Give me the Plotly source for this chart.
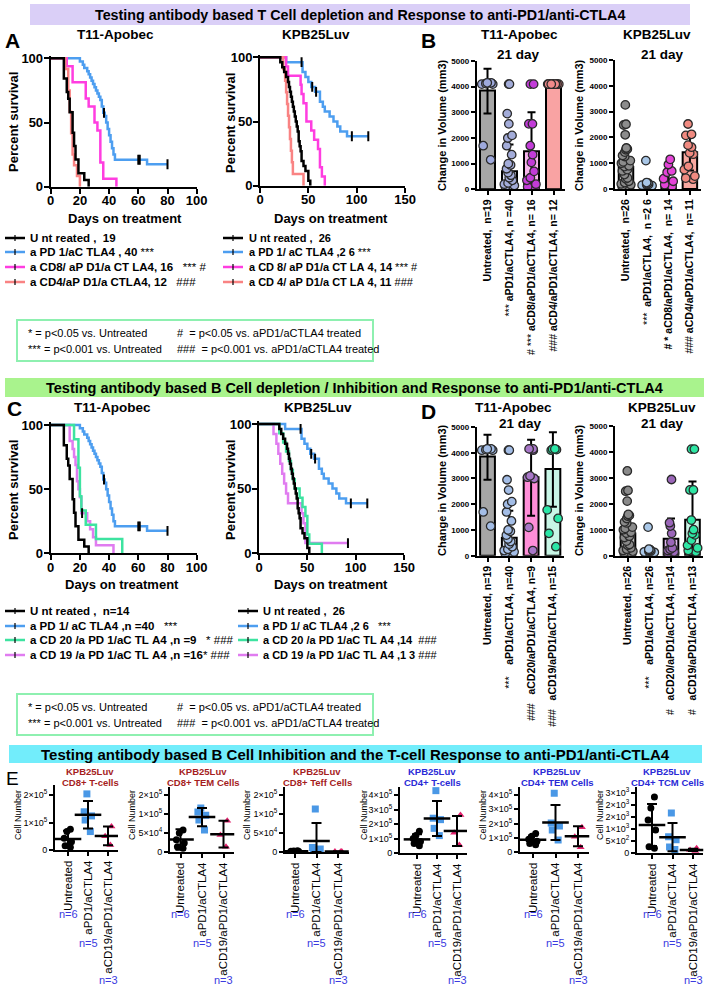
import plotly.graph_objects as go

W, H = 712, 988
FONT = "Liberation Sans, Arial, Helvetica, sans-serif"

# ===================== DATA =====================
# ---- Survival (Kaplan-Meier steps), T11-Apobec ----
t11_untreated_days = [0, 9, 11, 12, 13, 15, 16, 17, 19, 23, 26]
t11_untreated_surv = [100, 84.2, 73.7, 68.4, 57.9, 42.1, 31.6, 21.1, 10.5, 5.3, 0]
t11_apd1_days = [0, 20, 22, 23, 25, 26, 27, 28, 29, 30, 31, 32, 33, 34, 35, 36, 37, 38, 39, 40, 41, 42, 43, 44, 66, 80]
t11_apd1_surv = [100, 97.5, 95, 92.5, 90, 87.5, 85, 82.5, 80, 77.5, 75, 72.5, 70, 67.5, 62.5, 57.5, 55, 50, 45, 40, 35, 30, 25, 21, 17.5, 17.5]
t11_apd1_censor_days = [36.5, 60, 61, 80]
t11_apd1_censor_surv = [57.5, 21, 21, 17.5]
t11_acd8_days = [0, 11, 15, 24, 26, 30, 32, 34, 36, 45]
t11_acd8_surv = [100, 93.75, 81.25, 68.75, 62.5, 50, 43.75, 18.75, 6.25, 0]
t11_acd4_days = [0, 10, 12, 13, 14, 15, 16, 18, 20]
t11_acd4_surv = [100, 91.7, 75, 58.3, 41.7, 25, 16.7, 8.3, 0]
t11_acd20_days = [0, 16, 19, 20, 21, 24, 31, 49]
t11_acd20_surv = [100, 88.9, 66.7, 44.4, 33.3, 22.2, 11.1, 0]
t11_acd19_days = [0, 13, 15, 16, 17, 18, 19, 20, 21, 25, 27, 29, 31, 43]
t11_acd19_surv = [100, 87.5, 81.25, 75, 68.75, 56.25, 50, 43.75, 31.25, 25, 18.75, 12.5, 6.25, 0]
t11_acd19_censor_days = [21.5]
t11_acd19_censor_surv = [31.25]

# ---- Survival, KPB25Luv ----
kpb_untreated_days = [0, 21, 23, 25, 27, 29, 30, 31, 32, 33, 34, 35, 36, 37, 38, 39, 40, 41, 42, 43, 45, 47, 50, 52]
kpb_untreated_surv = [100, 96.2, 92.3, 88.5, 84.6, 80.8, 76.9, 73.1, 69.2, 65.4, 61.5, 57.7, 53.8, 50, 46.2, 42.3, 34.6, 30.8, 26.9, 19.2, 15.4, 11.5, 3.8, 0]
kpb_apd1_days = [0, 27, 44, 47, 50, 53, 57, 62, 65, 67, 72, 76, 80, 83, 90, 112]
kpb_apd1_surv = [100, 96.2, 88.5, 84.6, 80.8, 76.9, 73.1, 65.4, 61.5, 57.7, 53.8, 50, 46.2, 42.3, 38.5, 38.5]
kpb_apd1_censor_days = [43, 54, 58, 95, 112]
kpb_apd1_censor_surv = [96.2, 76.9, 73.1, 38.5, 38.5]
kpb_acd8_days = [0, 27, 29, 42, 43, 45, 48, 53, 56, 60, 62, 64, 67]
kpb_acd8_surv = [100, 92.9, 85.7, 78.6, 71.4, 64.3, 50, 42.9, 35.7, 28.6, 14.3, 7.1, 0]
kpb_acd4_days = [0, 24, 26, 27, 28, 29, 30, 31, 32, 33, 34, 45]
kpb_acd4_surv = [100, 90.9, 81.8, 72.7, 63.6, 54.5, 45.5, 36.4, 27.3, 18.2, 9.1, 0]
kpb_acd20_days = [0, 21, 25, 28, 31, 33, 35, 37, 42, 45, 48, 50, 52, 65]
kpb_acd20_surv = [100, 92.9, 85.7, 78.6, 71.4, 64.3, 57.1, 50, 42.9, 35.7, 28.6, 14.3, 7.1, 0]
kpb_acd19_days = [0, 15, 18, 20, 22, 24, 26, 28, 30, 44, 46, 48, 92]
kpb_acd19_surv = [100, 92.3, 84.6, 76.9, 69.2, 61.5, 53.8, 46.2, 38.5, 30.8, 23.1, 7.7, 7.7]
kpb_acd19_censor_days = [92]
kpb_acd19_censor_surv = [7.7]

surv_ticks_t11 = [0, 20, 40, 60, 80, 100]
surv_ticks_kpb = [0, 50, 100, 150]
surv_yticks = [0, 50, 100]

# ---- Bar charts (tumour volume change, 21 day) ----
bar_cats_B = ["Untreated", "aPD1", "aCD8", "aCD4"]
bar_cats_D = ["Untreated", "aPD1", "aCD20", "aCD19"]
B1_labels = ["<b>Untreated,  n=19</b>", "*** <b>aPD1/aCTLA4, n =40</b>",
             "# *** <b>aCD8/aPD1/aCTLA4, n= 16</b>", "### <b>aCD4/aPD1/aCTLA4, n= 12</b>"]
B2_labels = ["<b>Untreated,  n=26</b>", "***  <b>aPD1/aCTLA4,  n =2 6</b>",
             "<b># *</b> <b>aCD8/aPD1/aCTLA4,  n= 14</b>", "### <b>aCD4/aPD1/aCTLA4,  n= 11</b>"]
D1_labels = ["<b>Untreated, n=19</b>", "***    <b>aPD1/aCTLA4, n=40</b>",
             "###   <b>aCD20/aPD1/aCTLA4, n=9</b>", "###   <b>aCD19/aPD1/aCTLA4, n=15</b>"]
D2_labels = ["<b>Untreated, n=26</b>", "***    <b>aPD1/aCTLA4, n=26</b>",
             "#   <b>aCD20/aPD1/aCTLA4, n=14</b>", "#   <b>aCD19/aPD1/aCTLA4, n=13</b>"]
vol_ticks = [0, 1000, 2000, 3000, 4000, 5000]

B1_means = [3850, 700, 1480, 4100]
B1_err_plus = [850, 1050, 1520, 0]
B1_err_minus = [900, 700, 1480, 0]
B1_untreated = [4150, 4100, 4120, 4150, 4100, 1700, 1150]
B1_apd1 = [4100, 4100, 2950, 2550, 2100, 2000, 1700, 1350, 1000, 950, 800, 650, 550, 450, 350, 250, 200, 150, 100, 50]
B1_acd8 = [4100, 4100, 2550, 2550, 1700, 1350, 1050, 700, 450, 350, 200, 100, 50]
B1_acd4 = [4100, 4100, 4100, 4100, 4100, 4100, 4100, 4100, 4100, 4100, 4100, 4100]

B2_means = [850, 150, 380, 1420]
B2_err_plus = [800, 150, 380, 700]
B2_err_minus = [700, 150, 380, 700]
B2_untreated = [3260, 2510, 2480, 2100, 1590, 1550, 1520, 1430, 1300, 1260, 1100, 1050, 1000, 900, 870, 750, 700, 560, 430, 400, 300, 250, 200, 170, 120, 80]
B2_apd1 = [1100, 250, 230, 200, 180, 170, 150, 130, 120, 100]
B2_acd8 = [1150, 950, 700, 650, 400, 300, 170, 100]
B2_acd4 = [2520, 2120, 2080, 1700, 1620, 1400, 1350, 880, 750, 500, 420, 380]

D1_means = [3850, 700, 3050, 3370]
D1_err_plus = [850, 1050, 1450, 1430]
D1_err_minus = [900, 700, 1500, 1470]
D1_untreated = B1_untreated
D1_apd1 = B1_apd1
D1_acd20 = [4150, 4150, 4140, 4100, 3100, 3050, 3000, 1100, 200]
D1_acd19 = [4150, 4140, 4120, 4100, 1780, 1450, 870, 350]

D2_means = [850, 150, 650, 1380]
D2_err_plus = [800, 150, 780, 1470]
D2_err_minus = [700, 150, 650, 1380]
D2_untreated = B2_untreated
D2_apd1 = B2_apd1
D2_acd20 = [2930, 1270, 1140, 860, 520, 300, 250, 200, 150, 120, 100]
D2_acd19 = [4100, 4100, 2530, 2530, 1370, 1000, 860, 800, 600, 400, 300, 200, 150]

# ---- Panel E (cell numbers) ----
e_cats = ["Untreated", "aPD1/aCTLA4", "aCD19/aPD1/aCTLA4"]
e_n_labels = ["n=6", "n=5", "n=3"]
e_title_line1 = ["KPB25Luv"] * 6
e_title_line2 = ["CD8+ T-cells", "CD8+ TEM Cells", "CD8+ Teff Cells",
                 "CD4+ T-cells", "CD4+ TEM Cells", "CD4+ TCM Cells"]

E1_unt = [75e3, 67e3, 43e3, 30e3, 15e3, 10e3]
E1_apd1 = [204e3, 139e3, 124e3, 109e3, 67e3]
E1_cd19 = [85e3, 50e3, 18e3]
E1_mean = [40e3, 128e3, 51e3]
E1_sd = [30e3, 50e3, 34e3]

E2_unt = [58e3, 50e3, 32e3, 24e3, 14e3, 10e3]
E2_apd1 = [116e3, 105e3, 97e3, 84e3, 58e3]
E2_cd19 = [82e3, 45e3, 14e3]
E2_mean = [33e3, 92e3, 47e3]
E2_sd = [27e3, 24e3, 35e3]

E3_unt = [3e3, 2.5e3, 2e3, 1.5e3, 1e3, 0.5e3]
E3_apd1 = [113e3, 12e3, 8e3, 6e3, 5e3]
E3_cd19 = [1.5e3, 1e3, 0.5e3]
E3_mean = [1.75e3, 29e3, 1e3]
E3_sd = [1e3, 47e3, 0.5e3]

E4_unt = [150e3, 120e3, 100e3, 80e3, 65e3, 50e3]
E4_apd1 = [430e3, 240e3, 230e3, 170e3, 120e3]
E4_cd19 = [262e3, 140e3, 55e3]
E4_mean = [94e3, 238e3, 152e3]
E4_sd = [35e3, 120e3, 104e3]

E5_unt = [130e3, 110e3, 90e3, 75e3, 60e3, 50e3]
E5_apd1 = [412e3, 203e3, 182e3, 154e3, 84e3]
E5_cd19 = [173e3, 107e3, 33e3]
E5_mean = [86e3, 207e3, 110e3]
E5_sd = [30e3, 123e3, 70e3]

E6_unt = [2330, 1880, 1380, 960, 260, 200]
E6_apd1 = [1670, 680, 550, 250, 150]
E6_cd19 = [200, 120, 80]
E6_mean = [1170, 660, 130]
E6_sd = [875, 590, 50]

E_ticks_2e5 = [0, 1e5, 2e5]
E_ticktext_2e5 = ["0", "1×10<sup>5</sup>", "2×10<sup>5</sup>"]
E_ticks_15e4 = [0, 5e4, 1e5, 1.5e5]
E_ticktext_15e4 = ["0", "5×10<sup>4</sup>", "1×10<sup>5</sup>", "2×10<sup>5</sup>"]
E_ticks_4e5 = [0, 1e5, 2e5, 3e5, 4e5]
E_ticktext_4e5 = ["0", "1×10<sup>5</sup>", "2×10<sup>5</sup>", "3×10<sup>5</sup>", "4×10<sup>5</sup>"]
E_ticks_tcm = [0, 500, 1000, 1500, 2000, 2500]
E_ticktext_tcm = ["0", "5×10<sup>2</sup>", "1×10<sup>3</sup>", "2×10<sup>3</sup>", "2×10<sup>3</sup>", "3×10<sup>3</sup>"]

# ---- Text ----
banner_texts = ["Testing antibody based T Cell depletion and Response to anti-PD1/anti-CTLA4",
                "Testing antibody based B Cell depletion / Inhibition and Response to anti-PD1/anti-CTLA4",
                "Testing antibody based B Cell Inhibition and the T-cell Response to anti-PD1/anti-CTLA4"]
legA_left_labels = ["U nt reated ,  19", "a PD 1/aC TLA4 , 40", "a CD8/ aP D1/a CT LA4, 16", "a CD4/aP D1/a CTLA4, 12"]
legA_left_marks = ["", " ***", "   *** #", "   ###"]
legA_right_labels = ["U nt reated ,  26", "a PD 1/ aC TLA4 ,2 6", "a CD 8/ aP D1/a CT LA 4, 14", "a CD 4/ aP D1/a CT LA 4, 11"]
legA_right_marks = ["", " ***", " *** #", " ###"]
legC_left_labels = ["U nt reated ,  n=14", "a PD 1/ aC TLA4 ,n =40", "a CD 20 /a PD 1/aC TL A4 ,n =9", "a CD 19 /a PD 1/aC TL A4 ,n =16"]
legC_left_marks = ["", "   ***", "   * ###", "* ###"]
legC_right_labels = ["U nt reated ,  26", "a PD 1/ aC TLA4 ,2 6", "a CD 20 /a PD 1/aC TL A4 ,14", "a CD 19 /a PD 1/aC TL A4 ,1 3"]
legC_right_marks = ["", "   ***", "  ###", " ###"]
sig_left = ["* = p&lt;0.05 vs. Untreated", "*** = p&lt;0.001 vs. Untreated"]
sig_right = ["#  = p&lt;0.05 vs. aPD1/aCTLA4 treated", "###  = p&lt;0.001 vs. aPD1/aCTLA4 treated"]

# ---- Colours ----
C_BLACK = "#000000"
C_BLUE = "#4d9ef0"
C_MAG = "#ff3de0"
C_SAL = "#f98383"
C_GREEN = "#3de3a0"
C_VIOLET = "#e07cf0"

# ===================== BUILD =====================
fig = go.Figure()
axes = {}
shapes = []
annots = []


def X(p):
    return p / W


def Y(p):
    return 1 - p / H


def nb(s):
    return s.replace(" ", "\u00a0")


def ann(text, x, y, size, bold=False, color="black", xanchor="center", yanchor="middle",
        angle=0, xref="paper"):
    annots.append(dict(text=text, x=X(x) if xref == "paper" else x, y=Y(y), xref=xref, yref="paper",
                       showarrow=False, xanchor=xanchor, yanchor=yanchor, textangle=angle,
                       font=dict(family=FONT, size=size, color=color,
                                 weight="bold" if bold else "normal")))


def refs(i):
    return ("x", "y") if i == 1 else (f"x{i}", f"y{i}")


def add_axes(i, left, right, top, bottom, xo, yo):
    kx = "xaxis" if i == 1 else f"xaxis{i}"
    ky = "yaxis" if i == 1 else f"yaxis{i}"
    xr, yr = refs(i)
    axes[kx] = dict(domain=[X(left), X(right)], anchor=yr, **xo)
    axes[ky] = dict(domain=[Y(bottom), Y(top)], anchor=xr, **yo)


def base(**kw):
    d = dict(showline=True, linecolor="black", linewidth=2, ticks="outside", tickcolor="black",
             tickwidth=2, ticklen=5, showgrid=False, zeroline=False, automargin=False,
             fixedrange=True)
    d.update(kw)
    return d


def survival_panel(i, x0px, ppd, xmax, xticks, y100, y0, curves, censors):
    ppu = (y0 - y100) / 100.0
    add_axes(i, x0px, x0px + xmax * ppd, y0 - 102 * ppu, y0,
             base(range=[0, xmax], tickvals=xticks, ticklabelstandoff=-4,
                  tickfont=dict(family=FONT, size=13, weight="bold", color="black")),
             base(range=[0, 102], tickvals=surv_yticks, ticklabelstandoff=-2,
                  tickfont=dict(family=FONT, size=13, weight="bold", color="black")))
    xr, yr = refs(i)
    for days, surv, col in curves:
        fig.add_trace(go.Scatter(x=days, y=surv, mode="lines", xaxis=xr, yaxis=yr,
                                 line=dict(color=col, width=2.5, shape="hv"),
                                 showlegend=False, hoverinfo="skip"))
    for days, surv in censors:
        fig.add_trace(go.Scatter(x=days, y=surv, mode="markers", xaxis=xr, yaxis=yr,
                                 marker=dict(symbol="line-ns", size=7,
                                             line=dict(color="black", width=2)),
                                 showlegend=False, hoverinfo="skip"))


def bar_panel(i, axis_px, cat0, sp, y0, y5000, cats, labels, means, ep, em, barcols, pts, ptcols):
    r0 = (axis_px - cat0) / sp
    r1 = 3.5
    add_axes(i, axis_px, cat0 + r1 * sp, y5000, y0,
             base(type="category", range=[r0, r1], tickmode="array", tickvals=cats,
                  ticktext=labels, tickangle=-90, ticklen=4,
                  tickfont=dict(family=FONT, size=10.5, color="black")),
             base(range=[0, 5000], tickvals=vol_ticks, ticklen=4,
                  tickfont=dict(family=FONT, size=8, weight="bold", color="black")))
    xr, yr = refs(i)
    fig.add_trace(go.Bar(x=cats, y=means, xaxis=xr, yaxis=yr, width=0.68,
                         marker=dict(color=barcols, line=dict(color="black", width=2)),
                         error_y=dict(type="data", symmetric=False, array=ep, arrayminus=em,
                                      color="black", thickness=2, width=4),
                         showlegend=False, hoverinfo="skip"))
    for c, p, col in zip(cats, pts, ptcols):
        fig.add_trace(go.Box(x=[c] * len(p), y=p, xaxis=xr, yaxis=yr, boxpoints="all",
                             jitter=1, pointpos=0, width=0.62,
                             marker=dict(color=col, size=8.5, line=dict(color="#2a2a2a", width=1.3)),
                             line=dict(width=0, color="rgba(0,0,0,0)"),
                             fillcolor="rgba(0,0,0,0)", showlegend=False, hoverinfo="skip"))


def e_panel(i, axis_px, cat0, sp, y0, yref_px, yref_val, ytop, tv, tt, unt, apd1, cd19, mean, sd):
    r0 = (axis_px - cat0) / sp
    r1 = 2.5
    ppu = (y0 - yref_px) / yref_val
    ymax = (y0 - ytop) / ppu
    add_axes(i, axis_px, cat0 + r1 * sp, ytop, y0,
             base(type="category", range=[r0, r1], tickmode="array", tickvals=e_cats,
                  ticktext=e_cats, tickangle=-90, ticklen=4, tickwidth=1.5,
                  tickfont=dict(family=FONT, size=11.5, color="black")),
             base(range=[0, ymax], tickmode="array", tickvals=tv, ticktext=tt, ticklen=4,
                  tickwidth=1.5, tickfont=dict(family=FONT, size=9, color="black")))
    xr, yr = refs(i)
    specs = [(e_cats[0], unt, "black", "circle"), (e_cats[1], apd1, "#4a98e6", "square"),
             (e_cats[2], cd19, "#e2206c", "triangle-up")]
    for c, p, col, sym in specs:
        fig.add_trace(go.Box(x=[c] * len(p), y=p, xaxis=xr, yaxis=yr, boxpoints="all",
                             jitter=0.9, pointpos=0, width=0.5,
                             marker=dict(color=col, size=7, symbol=sym),
                             line=dict(width=0, color="rgba(0,0,0,0)"),
                             fillcolor="rgba(0,0,0,0)", showlegend=False, hoverinfo="skip"))
    em = [min(m, s) for m, s in zip(mean, sd)]
    fig.add_trace(go.Scatter(x=e_cats, y=mean, mode="markers", xaxis=xr, yaxis=yr,
                             marker=dict(symbol="line-ew", size=19, color="black",
                                         line=dict(color="black", width=2.5)),
                             error_y=dict(type="data", symmetric=False, array=sd, arrayminus=em,
                                          color="black", thickness=2, width=5),
                             showlegend=False, hoverinfo="skip"))


# ---- Banners ----
for (x0, x1, y0, y1, col, fs), txt in zip([(30, 690, 4, 25, "#dacff7", 14.3), (5, 704, 378, 397, "#a9f38d", 14.5),
                                           (9, 702, 745, 763, "#72edfb", 15)], banner_texts):
    shapes.append(dict(type="rect", xref="paper", yref="paper", x0=X(x0), x1=X(x1), y0=Y(y1), y1=Y(y0),
                       fillcolor=col, line=dict(width=0), layer="below"))
    ann(txt, (x0 + x1) / 2, (y0 + y1) / 2 + 0.5, fs, bold=True)

# ---- Panel A ----
survival_panel(1, 50.7, 1.46, 100, surv_ticks_t11, 58.3, 186.7,
               [(t11_apd1_days, t11_apd1_surv, C_BLUE), (t11_acd8_days, t11_acd8_surv, C_MAG),
                (t11_acd4_days, t11_acd4_surv, C_SAL), (t11_untreated_days, t11_untreated_surv, C_BLACK)],
               [(t11_apd1_censor_days, t11_apd1_censor_surv)])
survival_panel(2, 260, 0.967, 150, surv_ticks_kpb, 57.3, 185.7,
               [(kpb_apd1_days, kpb_apd1_surv, C_BLUE), (kpb_acd8_days, kpb_acd8_surv, C_MAG),
                (kpb_acd4_days, kpb_acd4_surv, C_SAL), (kpb_untreated_days, kpb_untreated_surv, C_BLACK)],
               [(kpb_apd1_censor_days, kpb_apd1_censor_surv)])

# ---- Panel C ----
survival_panel(5, 50.7, 1.46, 100, surv_ticks_t11, 425, 553.3,
               [(t11_apd1_days, t11_apd1_surv, C_BLUE), (t11_acd19_days, t11_acd19_surv, C_VIOLET),
                (t11_acd20_days, t11_acd20_surv, C_GREEN), (t11_untreated_days, t11_untreated_surv, C_BLACK)],
               [(t11_apd1_censor_days, t11_apd1_censor_surv), (t11_acd19_censor_days, t11_acd19_censor_surv)])
survival_panel(6, 259, 0.967, 150, surv_ticks_kpb, 424, 553,
               [(kpb_apd1_days, kpb_apd1_surv, C_BLUE), (kpb_acd19_days, kpb_acd19_surv, C_VIOLET),
                (kpb_acd20_days, kpb_acd20_surv, C_GREEN), (kpb_untreated_days, kpb_untreated_surv, C_BLACK)],
               [(kpb_apd1_censor_days, kpb_apd1_censor_surv), (kpb_acd19_censor_days, kpb_acd19_censor_surv)])

# ---- Panel B ----
bar_panel(3, 476.7, 487.5, 22, 189.3, 61, bar_cats_B, B1_labels, B1_means, B1_err_plus, B1_err_minus,
          ["#a6a6a6", "#dfe3f5", "#f6b4ec", "#f9a3a3"],
          [B1_untreated, B1_apd1, B1_acd8, B1_acd4], ["#9ea9dc", "#a3acd9", "#c23cd8", "#f08a8a"])
bar_panel(4, 615, 626, 21.3, 189, 60, bar_cats_B, B2_labels, B2_means, B2_err_plus, B2_err_minus,
          ["#bdbdbd", "#e2ecf7", "#f6b0ee", "#f8a8a0"],
          [B2_untreated, B2_apd1, B2_acd8, B2_acd4], ["#8c8c8c", "#a8c6e6", "#e444d8", "#f08a80"])

# ---- Panel D ----
bar_panel(7, 476.7, 487.5, 21.8, 555.7, 427, bar_cats_D, D1_labels, D1_means, D1_err_plus, D1_err_minus,
          ["#a6a6a6", "#dde6f5", "#ff8ed8", "#c8f6e6"],
          [D1_untreated, D1_apd1, D1_acd20, D1_acd19], ["#a3bde6", "#a3bde6", "#a877c8", "#2ae6a6"])
bar_panel(8, 615, 628, 21.5, 555.7, 425.7, bar_cats_D, D2_labels, D2_means, D2_err_plus, D2_err_minus,
          ["#bdbdbd", "#e2ecf7", "#dcb4ec", "#c8f4e4"],
          [D2_untreated, D2_apd1, D2_acd20, D2_acd19], ["#8a8a8a", "#aac8e8", "#9a66b8", "#2ee6a4"])

# ---- Panel E ----
e_specs = [
    (9, 55, 68, 20, 850, 795, 2e5, 785, E_ticks_2e5, E_ticktext_2e5, E1_unt, E1_apd1, E1_cd19, E1_mean, E1_sd),
    (10, 170, 180.5, 21.5, 852, 795, 1.5e5, 787, E_ticks_15e4, E_ticktext_15e4, E2_unt, E2_apd1, E2_cd19, E2_mean, E2_sd),
    (11, 285, 295, 21.5, 852, 795, 1.5e5, 787, E_ticks_15e4, E_ticktext_15e4, E3_unt, E3_apd1, E3_cd19, E3_mean, E3_sd),
    (12, 400, 417, 20, 853, 795, 4e5, 787, E_ticks_4e5, E_ticktext_4e5, E4_unt, E4_apd1, E4_cd19, E4_mean, E4_sd),
    (13, 520, 533, 22.5, 852, 795, 4e5, 787, E_ticks_4e5, E_ticktext_4e5, E5_unt, E5_apd1, E5_cd19, E5_mean, E5_sd),
    (14, 637, 652, 20.5, 853, 793, 2500, 787, E_ticks_tcm, E_ticktext_tcm, E6_unt, E6_apd1, E6_cd19, E6_mean, E6_sd),
]
for s in e_specs:
    e_panel(*s)

e_title_x = [90, 203, 317, 432, 557, 667]
e_title_col = ["#a51d1d"] * 3 + ["#2a2ad6"] * 3
e_ytitle_x = [18, 132, 247, 364, 483, 600]
for k in range(6):
    ann(e_title_line1[k], e_title_x[k], 771.5, 9.5, bold=True, color=e_title_col[k])
    ann(e_title_line2[k], e_title_x[k], 782.5, 9.5, bold=True, color=e_title_col[k])
    ann("Cell Number", e_ytitle_x[k], 815, 9, angle=-90)
    xr, _ = refs(9 + k)
    for j, yy in enumerate([914, 943, 980]):
        ann(e_n_labels[j], j, yy, 11, color="#3b3bdf", xref=xr)

# ---- Titles / labels ----
ann("A", 12, 41, 21, bold=True)
ann("B", 428, 41, 21, bold=True)
ann("C", 14, 408, 21, bold=True)
ann("D", 428, 411, 21, bold=True)
ann("E", 12, 778, 19)

ann("T11-Apobec", 115, 35, 13.5, bold=True)
ann("KPB25Luv", 316, 35, 13.5, bold=True)
ann("T11-Apobec", 519, 35, 13.5, bold=True)
ann("21 day", 518, 54, 13.5, bold=True)
ann("KPB25Luv", 657, 35, 13.5, bold=True)
ann("21 day", 662, 54, 13.5, bold=True)
ann("T11-Apobec", 112, 407, 13.5, bold=True)
ann("KPB25Luv", 318, 407, 13.5, bold=True)
ann("T11-Apobec", 513, 407.5, 13.5, bold=True)
ann("21 day", 520, 423, 13.5, bold=True)
ann("KPB25Luv", 662, 407.5, 13.5, bold=True)
ann("21 day", 662, 423, 13.5, bold=True)

for (x, y) in [(13, 122), (230, 123), (13, 490), (230, 490)]:
    ann("Percent survival", x, y, 13, bold=True, angle=-90)
for (x, y) in [(125, 218), (331, 218), (122, 584), (331, 584)]:
    ann("Days on treatment", x, y, 13, bold=True)
for (x, y) in [(442, 125), (579, 125), (442, 490), (579, 490)]:
    ann("Change in Volume (mm3)", x, y, 11, bold=True, angle=-90)


# ---- Survival legends ----
def legend_rows(x0, x1, xt, ys, colors, labels, marks, size):
    for y, c, lab, mk in zip(ys, colors, labels, marks):
        shapes.append(dict(type="line", xref="paper", yref="paper", x0=X(x0), x1=X(x1), y0=Y(y), y1=Y(y),
                           line=dict(color=c, width=2.5)))
        xm = (x0 + x1) / 2
        shapes.append(dict(type="line", xref="paper", yref="paper", x0=X(xm), x1=X(xm), y0=Y(y - 3),
                           y1=Y(y + 3), line=dict(color="black", width=1.2)))
        ann("<b>" + nb(lab) + "</b>" + nb(mk), xt, y, size, xanchor="left")


legend_rows(5, 25, 28, [238, 252, 267, 282], [C_BLACK, C_BLUE, C_MAG, C_SAL],
            legA_left_labels, legA_left_marks, 11.5)
legend_rows(223, 243, 247, [238, 252, 267, 282], [C_BLACK, C_BLUE, C_MAG, C_SAL],
            legA_right_labels, legA_right_marks, 11)
legend_rows(5, 25, 28, [611, 626, 640, 655], [C_BLACK, C_BLUE, C_GREEN, C_VIOLET],
            legC_left_labels, legC_left_marks, 11.5)
legend_rows(238, 258, 261, [611, 626, 640, 655], [C_BLACK, C_BLUE, C_GREEN, C_VIOLET],
            legC_right_labels, legC_right_marks, 11)

# ---- Significance boxes ----
for top, bot in [(320, 361), (694, 735)]:
    shapes.append(dict(type="rect", xref="paper", yref="paper", x0=X(17), x1=X(373), y0=Y(bot), y1=Y(top),
                       line=dict(color="#8ef0b0", width=2), fillcolor="rgba(0,0,0,0)"))
    ann(nb(sig_left[0]), 26, top + 13, 11, xanchor="left")
    ann(nb(sig_left[1]), 26, top + 29, 11, xanchor="left")
    ann(nb(sig_right[0]), 175, top + 13, 11, xanchor="left")
    ann(nb(sig_right[1]), 175, top + 29, 11, xanchor="left")

fig.update_layout(width=W, height=H, margin=dict(l=0, r=0, t=0, b=0),
                  paper_bgcolor="white", plot_bgcolor="white", showlegend=False,
                  font=dict(family=FONT, color="black"), barmode="overlay", boxmode="overlay",
                  shapes=shapes, annotations=annots, **axes)

fig.write_html("out.html", config={"displayModeBar": False},
               post_script="document.body.style.margin='0px';document.body.style.padding='0px';")
